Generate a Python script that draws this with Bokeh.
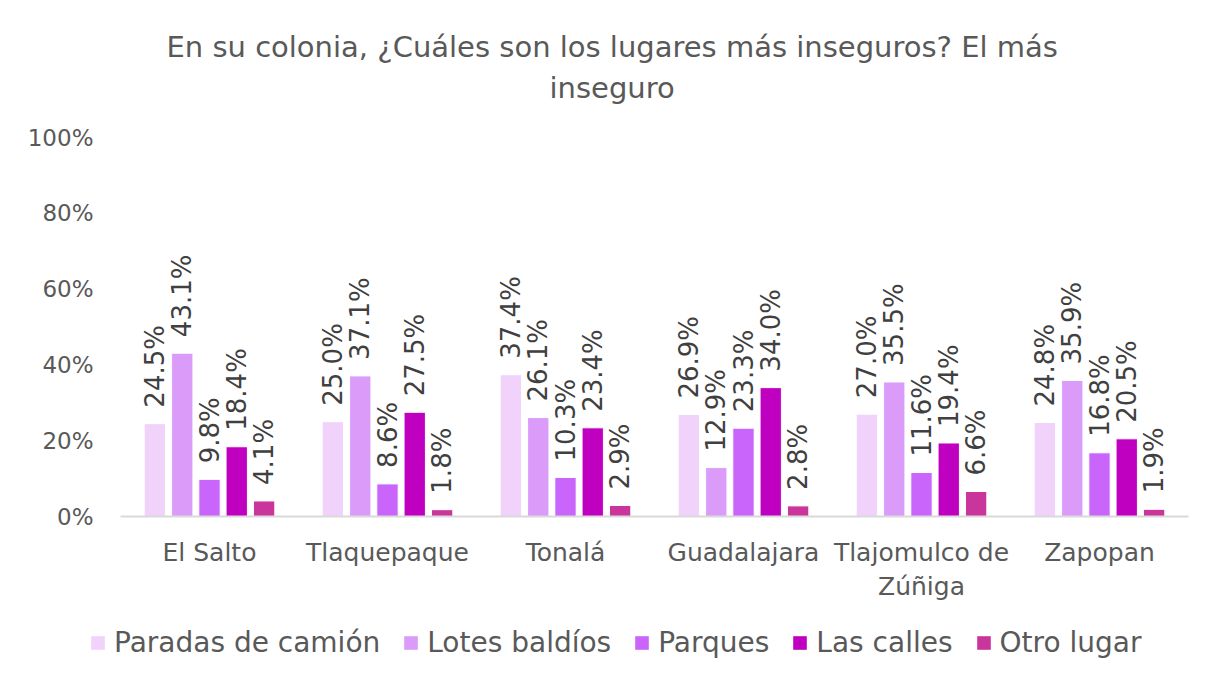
from math import pi
from bokeh.plotting import figure
from bokeh.layouts import column
from bokeh.models import (ColumnDataSource, FixedTicker, NumeralTickFormatter, Legend, LegendItem, Title)
from bokeh.transform import dodge
from bokeh.core.properties import value
from bokeh.embed import file_html
from bokeh.resources import INLINE

categories = ["El Salto", "Tlaquepaque", "Tonalá", "Guadalajara", "Tlajomulco de\nZúñiga", "Zapopan"]
series = ["Paradas de camión", "Lotes baldíos", "Parques", "Las calles", "Otro lugar"]
paradas = [0.245, 0.250, 0.374, 0.269, 0.270, 0.248]
lotes = [0.431, 0.371, 0.261, 0.129, 0.355, 0.359]
parques = [0.098, 0.086, 0.103, 0.233, 0.116, 0.168]
calles = [0.184, 0.275, 0.234, 0.340, 0.194, 0.205]
otro = [0.041, 0.018, 0.029, 0.028, 0.066, 0.019]
y_ticks = [0, 0.2, 0.4, 0.6, 0.8, 1.0]
title_line1 = "En su colonia, ¿Cuáles son los lugares más inseguros? El más"
title_line2 = "inseguro"

colors = ["#F0D2FA", "#DA9CF8", "#C965FA", "#C000C0", "#C9359B"]
FONT = "DejaVu Sans"
TXT = "#595959"

values = [paradas, lotes, parques, calles, otro]
keys = ["s0", "s1", "s2", "s3", "s4"]
data = {"cat": categories}
for k, v in zip(keys, values):
    data[k] = v
    data[k + "_lbl"] = ["%.1f%%" % (x * 100) for x in v]
src = ColumnDataSource(data)

W = 1205
p = figure(x_range=categories, y_range=(0, 1.0), width=W, height=616,
           output_backend="svg", toolbar_location=None,
           min_border_left=120, min_border_right=17, min_border_top=137, min_border_bottom=100)
p.background_fill_color = "white"
p.border_fill_color = "white"
p.outline_line_color = None
p.xgrid.grid_line_color = None
p.ygrid.grid_line_color = None
p.x_range.range_padding = 0

offsets = [-0.307, -0.153, 0.0, 0.153, 0.307]
for k, off, c in zip(keys, offsets, colors):
    p.vbar(x=dodge("cat", off, range=p.x_range), top=k, width=0.12, source=src,
           fill_color=c, line_color="white", line_width=1)
    p.text(x=dodge("cat", off, range=p.x_range), y=k, text=k + "_lbl", source=src,
           angle=pi / 2, text_align="left", text_baseline="middle", y_offset=-16,
           text_font=value(FONT), text_font_size="26px", text_color="#404040")

p.yaxis.ticker = FixedTicker(ticks=y_ticks)
p.yaxis.formatter = NumeralTickFormatter(format="0%")
p.yaxis.axis_line_color = None
p.yaxis.major_tick_line_color = None
p.yaxis.major_tick_out = 0
p.yaxis.minor_tick_line_color = None
p.yaxis.major_label_text_font = FONT
p.yaxis.major_label_text_font_size = "23px"
p.yaxis.major_label_text_color = TXT
p.yaxis.major_label_standoff = 27

p.xaxis.axis_line_color = "#D9D9D9"
p.xaxis.axis_line_width = 2
p.xaxis.major_tick_line_color = None
p.xaxis.minor_tick_line_color = None
p.xaxis.major_tick_out = 0
p.xaxis.major_label_text_font = FONT
p.xaxis.major_label_text_font_size = "25px"
p.xaxis.major_label_text_color = TXT
p.xaxis.major_label_standoff = 21

spacer = Title(text=" ", text_font_size="1px", standoff=26)
t2 = Title(text=title_line2, align="left", offset=429, text_font=FONT, text_font_size="29px",
           text_font_style="normal", text_color=TXT, standoff=8)
t1 = Title(text=title_line1, align="left", offset=46, text_font=FONT, text_font_size="29px",
           text_font_style="normal", text_color=TXT, standoff=2)
p.add_layout(spacer, "above")
p.add_layout(t2, "above")
p.add_layout(t1, "above")

# legend strip below the chart
lg = figure(x_range=(0, 1), y_range=(0, 1), width=W, height=54,
            output_backend="svg", toolbar_location=None,
            x_axis_location=None, y_axis_location=None,
            min_border_left=0, min_border_right=0, min_border_top=0, min_border_bottom=0)
lg.frame_align = False
lg.grid.visible = False
lg.outline_line_color = None
lg.background_fill_color = "white"
lg.border_fill_color = "white"
items = []
for c, name in zip(colors, series):
    r = lg.vbar(x=[0.5], top=[0], bottom=[0], width=0.0, fill_color=c, line_color=None)
    items.append(LegendItem(label=name, renderers=[r]))
legend = Legend(items=items, orientation="horizontal", location=(89, 11),
                label_text_font=FONT, label_text_font_size="28px", label_text_color=TXT,
                glyph_width=17, glyph_height=17, spacing=22, label_standoff=8,
                background_fill_alpha=0, border_line_color=None, padding=0, margin=0)
lg.add_layout(legend, "center")

layout = column(p, lg, spacing=0)
open("out.html", "w").write(file_html(layout, INLINE))
